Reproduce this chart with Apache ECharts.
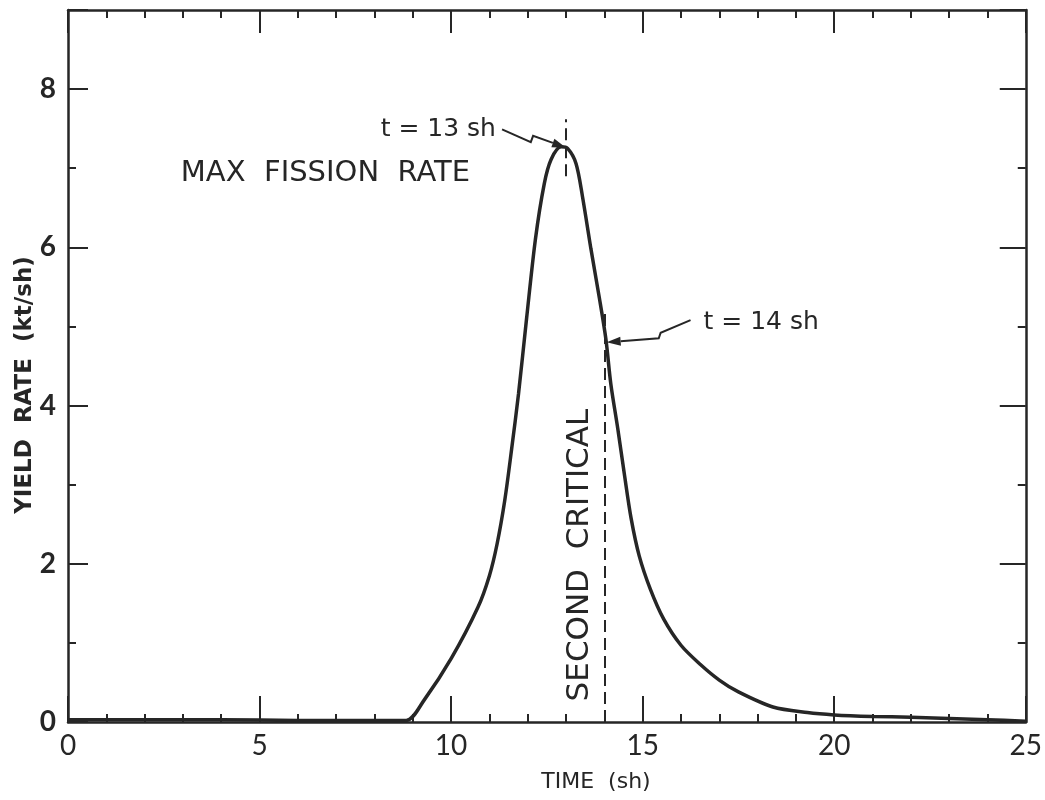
<!DOCTYPE html>
<html>
<head>
<meta charset="utf-8">
<script src="https://cdn.jsdelivr.net/npm/echarts@6/dist/echarts.min.js"></script>
<style>
html,body{margin:0;padding:0;background:#fff;}
#chart{width:1045px;height:800px;}
</style>
</head>
<body>
<div id="chart"></div>
<script>
// ---- data ----
var timeSh = [0, 2, 4, 6, 8, 8.83, 9.3, 10.0, 10.7, 11.0, 11.2, 11.4, 11.58, 11.76, 11.97, 12.2, 12.43, 12.61, 12.87, 13.04, 13.26, 13.43, 13.65, 13.87, 14.04, 14.17, 14.35, 14.52, 14.7, 14.91, 15.2, 15.55, 16.0, 16.5, 17.0, 17.5, 18.4, 19.3, 20, 21, 22, 24, 25];
var yieldRate = [0.03, 0.03, 0.03, 0.02, 0.02, 0.02, 0.28, 0.8, 1.45, 1.85, 2.25, 2.8, 3.45, 4.15, 5.1, 6.1, 6.8, 7.11, 7.27, 7.25, 7.06, 6.64, 5.98, 5.36, 4.84, 4.27, 3.71, 3.14, 2.57, 2.1, 1.68, 1.3, 0.97, 0.73, 0.53, 0.38, 0.19, 0.12, 0.09, 0.07, 0.06, 0.03, 0.01];
var xTickLabels = ['0', '5', '10', '15', '20', '25'];
var yTickLabels = ['0', '2', '4', '6', '8'];
var xTitle = 'TIME  (sh)';
var yTitle = 'YIELD  RATE  (kt/sh)';
var maxLabel = 'MAX  FISSION  RATE';
var critLabel = 'SECOND  CRITICAL';
var t13Label = 't = 13 sh';
var t14Label = 't = 14 sh';
var maxTime = 13, secondCriticalTime = 14;
// annotation anchors in data units
var maxTextPos = [6.72, 6.94];
var critTextPos = [13.36, 2.11];
var t13TextEnd = [11.17, 7.49];
var t14TextStart = [16.59, 5.05];
var arrow13 = [[11.33, 7.49], [12.08, 7.33], [12.14, 7.41], [13.0, 7.26]];
var arrow14 = [[16.25, 5.08], [15.47, 4.92], [15.42, 4.85], [14.06, 4.8]];

var INK = '#262626';
var FONT = '"DejaVu Sans", sans-serif';
var LFONT = 'Lato, "DejaVu Sans", sans-serif';

var chart = echarts.init(document.getElementById('chart'));
var points = timeSh.map(function (t, i) { return [t, yieldRate[i]]; });

function xAxisDef(pos, showLabel, majorLen) {
  return {
    type: 'value', position: pos, min: 0, max: 25, interval: 5,
    axisLine: { show: true, onZero: false, lineStyle: { color: INK, width: 2.5 } },
    axisTick: { show: true, inside: true, length: majorLen, lineStyle: { color: INK, width: 2 } },
    minorTick: { show: true, splitNumber: 5, length: 8, lineStyle: { color: INK, width: 2 } },
    splitLine: { show: false }, minorSplitLine: { show: false },
    axisLabel: {
      show: showLabel, margin: 10, color: INK, fontFamily: LFONT, fontSize: 28,
      formatter: function (v) { var i = xTickLabels.indexOf(String(v)); return i >= 0 ? xTickLabels[i] : ''; }
    }
  };
}
function yAxisDef(pos, interval, tickLen, showLabel, showLine) {
  return {
    type: 'value', position: pos, min: 0, max: 9, interval: interval,
    axisLine: { show: showLine, onZero: false, lineStyle: { color: INK, width: 2.5 } },
    axisTick: { show: true, inside: true, length: tickLen, lineStyle: { color: INK, width: 2 } },
    splitLine: { show: false },
    axisLabel: {
      show: showLabel, margin: 12, color: INK, fontFamily: LFONT, fontSize: 28, fontWeight: 'bold',
      formatter: function (v) { var i = yTickLabels.indexOf(String(v)); return i >= 0 ? yTickLabels[i] : ''; }
    }
  };
}

chart.setOption({
  animation: false,
  backgroundColor: '#fff',
  grid: { left: 68, right: 15, top: 10, bottom: 78 },
  xAxis: [xAxisDef('bottom', true, 26), xAxisDef('top', false, 23)],
  yAxis: [
    yAxisDef('left', 2, 20, true, true),
    yAxisDef('left', 1, 8, false, false),
    yAxisDef('right', 2, 26, false, true),
    yAxisDef('right', 1, 8, false, false)
  ],
  series: [{
    type: 'line', xAxisIndex: 0, yAxisIndex: 0, data: points,
    smooth: 0.3, showSymbol: false, lineStyle: { color: INK, width: 3.5 },
    markLine: {
      silent: true, symbol: 'none', label: { show: false },
      lineStyle: { color: INK, width: 2, type: [12, 6] },
      data: [
        [{ coord: [secondCriticalTime, 0] }, { coord: [secondCriticalTime, 5.2] }],
        [{ coord: [maxTime, 6.9] }, { coord: [maxTime, 7.62] }]
      ]
    }
  }]
});

function px(p) { return chart.convertToPixel({ xAxisIndex: 0, yAxisIndex: 0 }, p); }
function arrow(pts) {
  var P = pts.map(px);
  var a = P[P.length - 2], b = P[P.length - 1];
  var dx = b[0] - a[0], dy = b[1] - a[1], L = Math.sqrt(dx * dx + dy * dy);
  var ux = dx / L, uy = dy / L, nx = -uy, ny = ux, hl = 14, hw = 4.5;
  var base = [b[0] - ux * hl, b[1] - uy * hl];
  return [
    { type: 'polyline', shape: { points: P.slice(0, -1).concat([base]) }, style: { stroke: INK, lineWidth: 2, fill: null } },
    { type: 'polygon', shape: { points: [b, [base[0] + nx * hw, base[1] + ny * hw], [base[0] - nx * hw, base[1] - ny * hw]] }, style: { fill: INK } }
  ];
}
var mt = px(maxTextPos), ct = px(critTextPos), t13 = px(t13TextEnd), t14 = px(t14TextStart);
var g = [
  { type: 'text', x: mt[0], y: mt[1], style: { text: maxLabel, fill: INK, font: '29px ' + FONT, align: 'center', verticalAlign: 'middle' } },
  { type: 'text', x: ct[0], y: ct[1], rotation: Math.PI / 2, style: { text: critLabel, fill: INK, font: '31px ' + FONT, align: 'center', verticalAlign: 'middle' } },
  { type: 'text', x: t13[0], y: t13[1], style: { text: t13Label, fill: INK, font: '25px ' + FONT, align: 'right', verticalAlign: 'middle' } },
  { type: 'text', x: t14[0], y: t14[1], style: { text: t14Label, fill: INK, font: '25px ' + FONT, align: 'left', verticalAlign: 'middle' } },
  { type: 'text', x: 596, y: 782, style: { text: xTitle, fill: INK, font: '22px ' + FONT, align: 'center', verticalAlign: 'middle' } },
  { type: 'text', x: 25, y: 385, rotation: Math.PI / 2, style: { text: yTitle, fill: INK, font: 'bold 23px ' + FONT, align: 'center', verticalAlign: 'middle' } }
].concat(arrow(arrow13)).concat(arrow(arrow14));
chart.setOption({ graphic: g });
</script>
</body>
</html>
